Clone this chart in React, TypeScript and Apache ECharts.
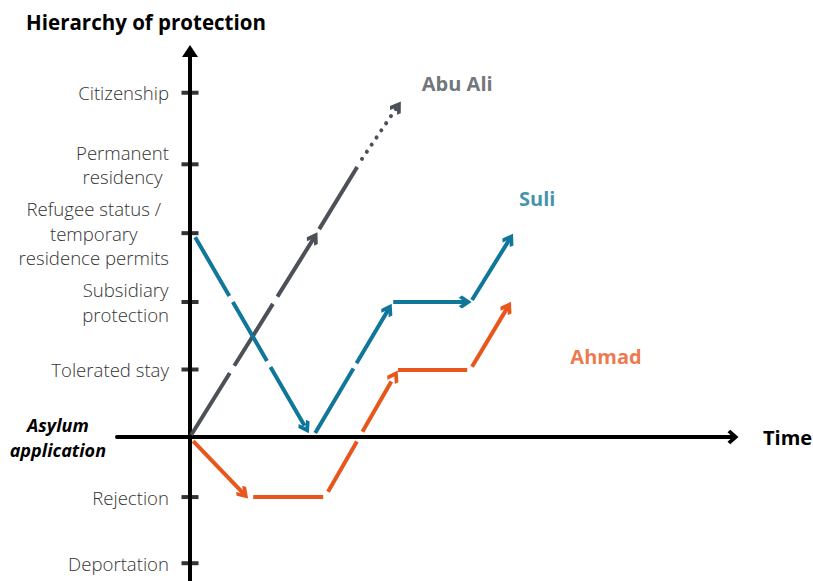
import React, { useEffect, useRef } from 'react';
import * as echarts from 'echarts';

// Levels of the hierarchy (label lines) and their positions on the vertical scale
const levelLines: string[][] = [
  ['Deportation'],
  ['Rejection'],
  ['Asylum', 'application'],
  ['Tolerated stay'],
  ['Subsidiary', 'protection'],
  ['Refugee status /', 'temporary', 'residence permits'],
  ['Permanent', 'residency'],
  ['Citizenship'],
];
const levelValues: number[] = [-1.87, -0.89, 0, 1, 2, 3.02, 4.04, 5.1];

// Trajectories: [time start, level start, time end, level end]
const abuAliSegments: number[][] = [
  [0.03, 0.03, 3.1, 2.95],
  [3.23, 3.08, 4.18, 4.0],
  [4.3, 4.12, 5.18, 4.89],
];
const suliSegments: number[][] = [
  [0.13, 2.96, 2.89, 0.14],
  [3.13, 0.06, 4.96, 1.89],
  [5.08, 2.0, 6.88, 2.0],
  [7.05, 2.03, 7.99, 2.93],
];
const ahmadSegments: number[][] = [
  [0.08, -0.06, 1.34, -0.84],
  [1.58, -0.89, 3.33, -0.89],
  [3.45, -0.81, 5.11, 0.9],
  [5.2, 1.0, 6.93, 1.0],
  [7.05, 1.04, 7.94, 1.92],
];
const personNames: string[] = ['Abu Ali', 'Suli', 'Ahmad'];

const FONT = "'Open Sans', 'Noto Sans', sans-serif";
const CHEVRON = 'path://M8,0 L16,9 L13.2,12 L8,6.3 L2.8,12 L0,9 Z';

type SegStyle = { dash: any; arrow: boolean; cap?: string };

const abuStyles: SegStyle[] = [
  { dash: [73, 8.5], arrow: true },
  { dash: 'solid', arrow: false },
  { dash: [0.1, 8.5], arrow: true, cap: 'round' },
];
const suliStyles: SegStyle[] = [
  { dash: [68, 7], arrow: true },
  { dash: [75, 6], arrow: true },
  { dash: 'solid', arrow: true },
  { dash: 'solid', arrow: true },
];
const ahmadStyles: SegStyle[] = [
  { dash: 'solid', arrow: true },
  { dash: 'solid', arrow: false },
  { dash: [58, 11], arrow: true },
  { dash: 'solid', arrow: false },
  { dash: 'solid', arrow: true },
];

function linesSeries(name: string, segs: number[][], styles: SegStyle[], color: string) {
  return {
    name,
    type: 'lines',
    coordinateSystem: 'cartesian2d',
    polyline: false,
    silent: true,
    z: 4,
    symbol: ['none', 'none'],
    symbolSize: [17, 13],
    lineStyle: { color, width: 4, opacity: 1, cap: 'butt' },
    data: segs.map((s, i) => ({
      coords: [
        [s[0], s[1]],
        [s[2], s[3]],
      ],
      symbol: ['none', styles[i].arrow ? CHEVRON : 'none'],
      symbolSize: [17, 13],
      lineStyle: { type: styles[i].dash, cap: styles[i].cap || 'butt', color, width: 4 },
    })),
  };
}

export default function App() {
  const ref = useRef<HTMLDivElement>(null);
  useEffect(() => {
    if (!ref.current) return;
    const chart = echarts.init(ref.current, undefined, { renderer: 'svg' });
    const gray = '#4b5157';
    const teal = '#10779a';
    const orange = '#e8561c';
    const personColors = [gray, teal, orange];
    const namePos = [
      [6.68, 5.23],
      [8.68, 3.53],
      [10.4, 1.2],
    ];
    const option: any = {
      animation: false,
      grid: { left: 117, right: 80, top: 51, bottom: 0, containLabel: false, outerBoundsMode: 'none' },
      xAxis: {
        type: 'value',
        min: -1.825,
        max: 13.575,
        axisLine: {
          show: true,
          onZero: true,
          symbol: ['none', CHEVRON],
          symbolSize: [15, 11],
          lineStyle: { color: '#000', width: 4 },
        },
        axisTick: { show: false },
        axisLabel: { show: false },
        splitLine: { show: false },
        name: 'Time',
        nameLocation: 'end',
        nameGap: 30,
        nameTextStyle: { fontFamily: FONT, fontWeight: 'bold', fontSize: 20, color: '#000' },
      },
      yAxis: {
        type: 'value',
        min: -2.1333,
        max: 5.7185,
        axisLine: {
          show: true,
          onZero: true,
          symbol: ['none', 'triangle'],
          symbolSize: [16, 12],
          lineStyle: { color: '#000', width: 4 },
        },
        axisTick: { show: false },
        splitLine: { show: false },
        axisLabel: {
          show: true,
          customValues: levelValues,
          margin: -52,
          formatter: (v: number) => {
            const idx = levelValues.findIndex((lv) => Math.abs(lv - v) < 1e-6);
            if (idx < 0) return '';
            const key = v === 0 ? 'asy' : 'lbl';
            return levelLines[idx].map((l) => `{${key}|${l}}`).join('\n');
          },
          rich: {
            lbl: {
              align: 'center',
              fontFamily: FONT,
              fontSize: 18.6,
              fontWeight: 300,
              color: '#333333',
              lineHeight: 24.5,
            },
            asy: {
              align: 'center',
              fontFamily: FONT,
              fontSize: 18,
              fontWeight: 'bold',
              fontStyle: 'italic',
              color: '#000',
              lineHeight: 25,
              padding: [0, 63, 0, 0],
            },
          },
        },
        name: 'Hierarchy of protection',
        nameLocation: 'end',
        nameGap: 19,
        nameTextStyle: {
          fontFamily: FONT,
          fontWeight: 'bold',
          fontSize: 20.5,
          color: '#000',
          align: 'center',
          padding: [0, 88, 0, 0],
        },
      },
      series: [
        {
          type: 'scatter',
          silent: true,
          z: 3,
          symbol: 'rect',
          symbolSize: [17, 4],
          itemStyle: { color: '#000' },
          data: levelValues.filter((v) => v !== 0).map((v) => [0, v]),
        },
        linesSeries(personNames[0], abuAliSegments, abuStyles, gray),
        linesSeries(personNames[1], suliSegments, suliStyles, teal),
        linesSeries(personNames[2], ahmadSegments, ahmadStyles, orange),
        {
          type: 'scatter',
          silent: true,
          z: 5,
          symbolSize: 0,
          data: personNames.map((n, i) => ({
            value: namePos[i],
            label: {
              show: true,
              position: 'inside',
              formatter: n,
              color: personColors[i],
              fontFamily: FONT,
              fontWeight: 'bold',
              fontSize: 20,
            },
          })),
        },
      ],
    };
    chart.setOption(option);
    return () => chart.dispose();
  }, []);
  return (
    <div
      ref={ref}
      style={{ position: 'fixed', left: 0, top: 0, width: 813, height: 581, background: '#fff' }}
    />
  );
}
